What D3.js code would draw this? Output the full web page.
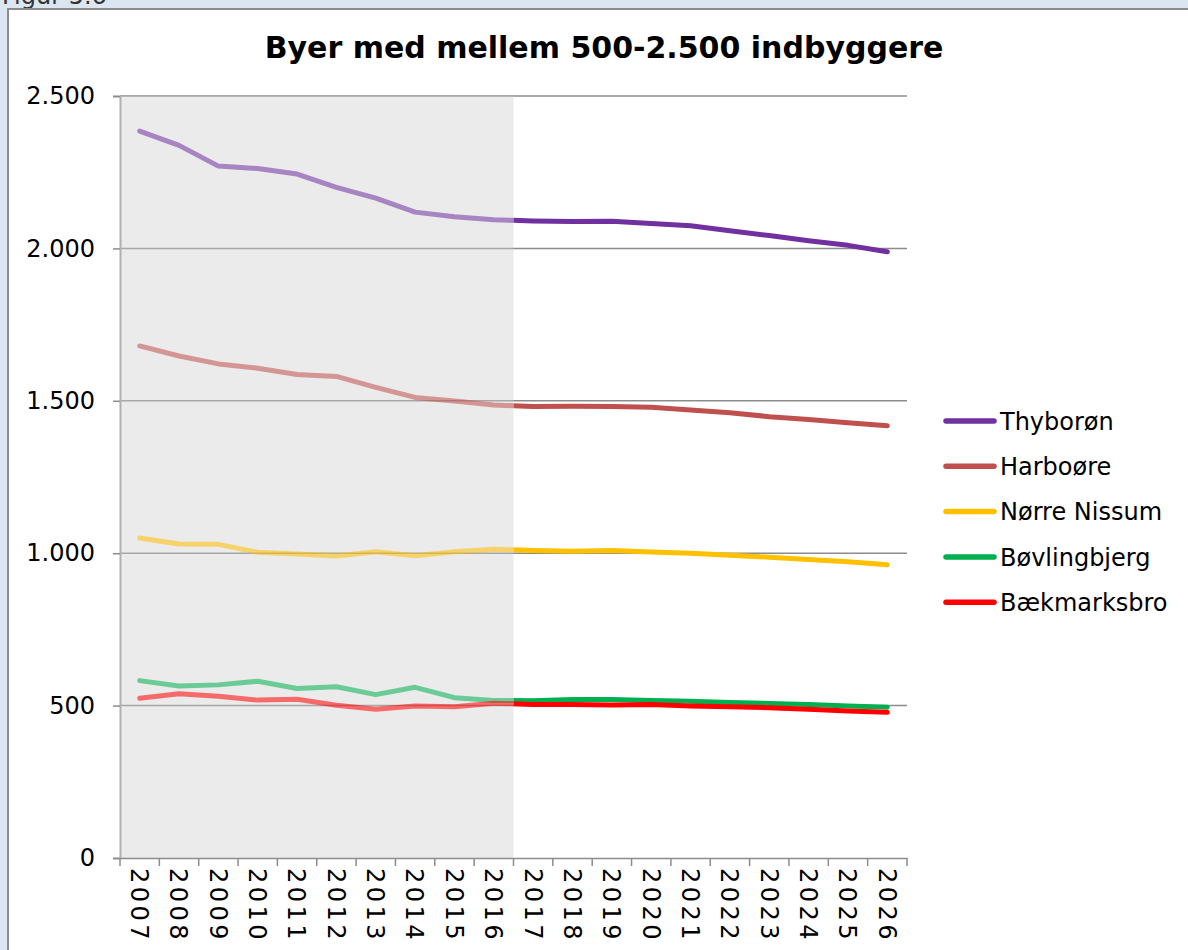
<!DOCTYPE html>
<html>
<head>
<meta charset="utf-8">
<script src="https://cdn.jsdelivr.net/npm/d3@7"></script>
<style>
  body { margin: 0; background: #dce6f1; }
  svg { display: block; font-family: "DejaVu Sans", Verdana, sans-serif; }
</style>
</head>
<body>
<div id="chart"></div>
<script>
var width = 1188;
var height = 950;

var years = ["2007", "2008", "2009", "2010", "2011", "2012", "2013", "2014", "2015", "2016",
             "2017", "2018", "2019", "2020", "2021", "2022", "2023", "2024", "2025", "2026"];
var lastHistoric = "2016";

var thyboron = [2385, 2338, 2270, 2262, 2244, 2200, 2165, 2119, 2104, 2094,
                2090, 2088, 2089, 2082, 2074, 2058, 2042, 2025, 2010, 1989];
var harboore = [1680, 1647, 1621, 1607, 1586, 1580, 1544, 1511, 1499, 1486,
                1481, 1482, 1481, 1479, 1470, 1461, 1448, 1439, 1428, 1418];
var norreNissum = [1050, 1030, 1029, 1003, 997, 991, 1005, 992, 1005, 1013,
                   1009, 1006, 1009, 1004, 1000, 993, 987, 979, 972, 962];
var bovlingbjerg = [582, 564, 568, 580, 556, 562, 536, 560, 526, 517,
                    516, 520, 520, 517, 514, 510, 507, 504, 499, 495];
var baekmarksbro = [524, 539, 531, 518, 521, 501, 488, 499, 496, 508,
                    504, 504, 502, 504, 499, 496, 493, 488, 482, 478];

var seriesNames = ["Thyborøn", "Harboøre", "Nørre Nissum", "Bøvlingbjerg", "Bækmarksbro"];
var seriesValues = [thyboron, harboore, norreNissum, bovlingbjerg, baekmarksbro];
var seriesColors = ["#7030a0", "#c0504d", "#ffc000", "#00b050", "#ff0000"];
var yTicks = [0, 500, 1000, 1500, 2000, 2500];

var plotLeft = 120, plotRight = 907, plotTop = 96, plotBottom = 858;

var svg = d3.select("#chart")
    .append("svg")
    .attr("width", width)
    .attr("height", height);

// outer caption, cut at the top edge
svg.append("text")
    .attr("x", 2)
    .attr("y", 4)
    .attr("font-size", 24)
    .attr("fill", "#333")
    .text("Figur 5.6");

// chart frame
svg.append("rect")
    .attr("x", 8)
    .attr("y", 9)
    .attr("width", width + 20)
    .attr("height", height + 20)
    .attr("fill", "#fff")
    .attr("stroke", "#8c8c8c")
    .attr("stroke-width", 2);

svg.append("text")
    .attr("x", 604)
    .attr("y", 58)
    .attr("text-anchor", "middle")
    .attr("font-size", 30)
    .attr("font-weight", "bold")
    .text("Byer med mellem 500-2.500 indbyggere");

var x = d3.scaleBand()
    .domain(years)
    .range([plotLeft, plotRight]);

var y = d3.scaleLinear()
    .domain([0, 2500])
    .range([plotBottom, plotTop]);

var cx = function(d) { return x(d) + x.bandwidth() / 2; };
var splitX = x(lastHistoric) + x.bandwidth();

var dk = d3.formatLocale({decimal: ",", thousands: ".", grouping: [3], currency: ["", " kr"]});

// gridlines
svg.append("g")
    .selectAll("line")
    .data(yTicks.filter(function(d) { return d > 0; }))
    .enter()
    .append("line")
    .attr("x1", plotLeft)
    .attr("x2", plotRight)
    .attr("y1", function(d) { return y(d); })
    .attr("y2", function(d) { return y(d); })
    .attr("stroke", "#8c8c8c")
    .attr("stroke-width", 1.5);

// shaded historic period, semi transparent so gridlines show lighter
svg.append("rect")
    .attr("x", plotLeft)
    .attr("y", plotTop)
    .attr("width", splitX - plotLeft)
    .attr("height", plotBottom - plotTop)
    .attr("fill", "#cfcfcf")
    .attr("fill-opacity", 0.41);

var yAxis = svg.append("g")
    .attr("transform", "translate(" + plotLeft + ",0)")
    .call(d3.axisLeft(y).tickValues(yTicks).tickSize(7).tickPadding(18).tickFormat(dk.format(",d")));
yAxis.select(".domain").attr("stroke", "#b0b0b0").attr("stroke-width", 2);
yAxis.selectAll(".tick line").attr("stroke", "#8c8c8c").attr("stroke-width", 1.5);
yAxis.selectAll(".tick text")
    .attr("font-size", 24)
    .attr("font-family", "DejaVu Sans, Verdana, sans-serif")
    .attr("fill", "#000");

var xAxis = svg.append("g")
    .attr("transform", "translate(0," + plotBottom + ")")
    .call(d3.axisBottom(x).tickSize(0).tickPadding(0));
xAxis.select(".domain").attr("stroke", "#8c8c8c").attr("stroke-width", 1.5);
xAxis.selectAll(".tick text")
    .attr("font-size", 24)
    .attr("font-family", "DejaVu Sans, Verdana, sans-serif")
    .attr("letter-spacing", 3.5)
    .attr("fill", "#000")
    .attr("text-anchor", "start")
    .attr("transform", "translate(0,10) rotate(90)")
    .attr("x", 0)
    .attr("y", 0)
    .attr("dy", "0.36em");

// tick marks on the band edges
svg.append("g")
    .selectAll("line")
    .data(years.concat(["end"]))
    .enter()
    .append("line")
    .attr("x1", function(d) { return d === "end" ? x.range()[1] : x(d); })
    .attr("x2", function(d) { return d === "end" ? x.range()[1] : x(d); })
    .attr("y1", plotBottom)
    .attr("y2", plotBottom + 8)
    .attr("stroke", "#8c8c8c")
    .attr("stroke-width", 1.5);

var defs = svg.append("defs");
defs.append("clipPath").attr("id", "past")
    .append("rect")
    .attr("x", 0).attr("y", 0)
    .attr("width", splitX).attr("height", height);
defs.append("clipPath").attr("id", "future")
    .append("rect")
    .attr("x", splitX).attr("y", 0)
    .attr("width", width - splitX).attr("height", height);

var line = d3.line()
    .x(function(d) { return cx(d.year); })
    .y(function(d) { return y(d.value); });

var rows = seriesNames.map(function(name, i) {
    return {
        name: name,
        color: seriesColors[i],
        points: years.map(function(yr, j) { return {year: yr, value: seriesValues[i][j]}; })
    };
});

rows.forEach(function(s) {
    svg.append("path")
        .datum(s.points)
        .attr("clip-path", "url(#past)")
        .attr("fill", "none")
        .attr("stroke", s.color)
        .attr("stroke-opacity", 0.55)
        .attr("stroke-width", 5)
        .attr("stroke-linecap", "round")
        .attr("stroke-linejoin", "round")
        .attr("d", line);
});
rows.forEach(function(s) {
    svg.append("path")
        .datum(s.points)
        .attr("clip-path", "url(#future)")
        .attr("fill", "none")
        .attr("stroke", s.color)
        .attr("stroke-width", 5)
        .attr("stroke-linecap", "round")
        .attr("stroke-linejoin", "round")
        .attr("d", line);
});

// legend
var legend = svg.append("g")
    .selectAll("g")
    .data(rows)
    .enter()
    .append("g")
    .attr("transform", function(d, i) { return "translate(944," + (421 + i * 45.3) + ")"; });

legend.append("line")
    .attr("x1", 2)
    .attr("x2", 50)
    .attr("stroke", function(d) { return d.color; })
    .attr("stroke-width", 5.5)
    .attr("stroke-linecap", "round");

legend.append("text")
    .attr("x", 56)
    .attr("dy", "0.36em")
    .attr("font-size", 24)
    .text(function(d) { return d.name; });
</script>
</body>
</html>
